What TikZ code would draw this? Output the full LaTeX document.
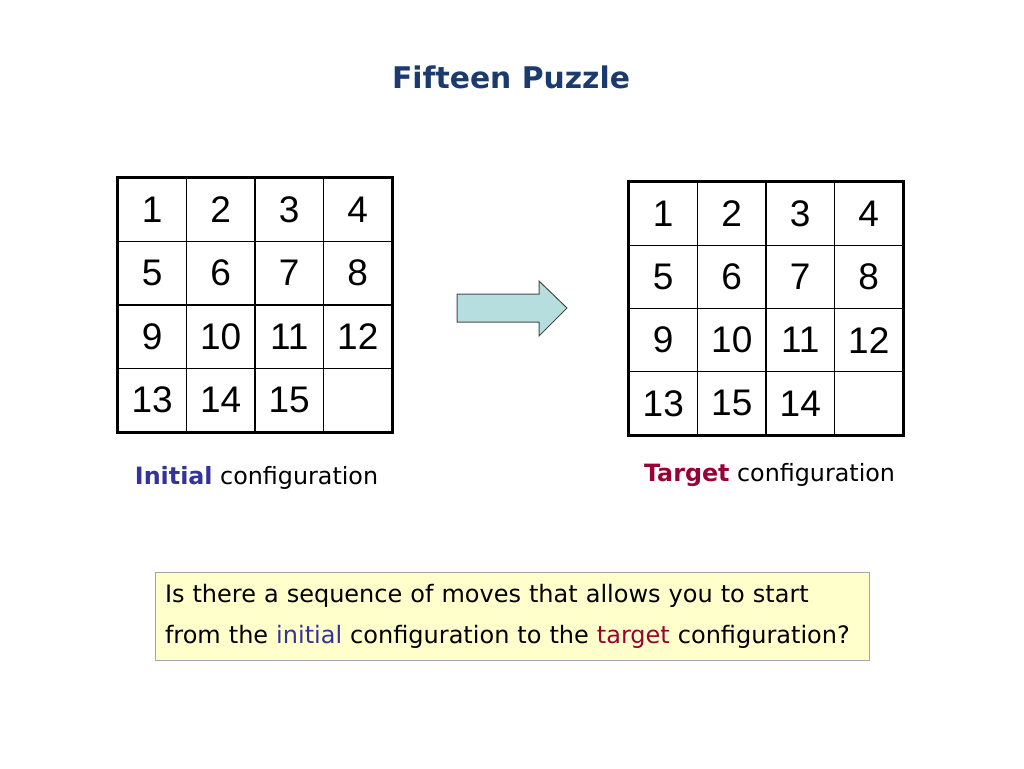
\documentclass[tikz,border=0pt]{standalone}
\usepackage{fontspec}
\setmainfont{DejaVu Sans}
\newfontfamily\numfont{Liberation Sans}
\definecolor{titleblue}{HTML}{1B3B6F}
\definecolor{iniblue}{HTML}{333399}
\definecolor{tgtred}{HTML}{990033}
\definecolor{boxfill}{HTML}{FFFFCC}
\definecolor{boxline}{HTML}{A6A6A6}
\definecolor{arrowfill}{HTML}{B7DEDE}
\definecolor{arrowline}{HTML}{4A4A4A}
\begin{document}
\begin{tikzpicture}[x=1pt,y=-1pt,
  cellL/.style={draw=black, line width=1.3pt, minimum width=68.5pt, minimum height=63.5pt, inner sep=0pt, font=\numfont\fontsize{37}{37}\selectfont},
  cellR/.style={cellL, minimum height=63.25pt},
  caption/.style={inner sep=0pt, font=\fontsize{23.8}{28}\selectfont},
  qbox/.style={draw=boxline, fill=boxfill, line width=1pt, minimum width=714pt, minimum height=88pt, text width=694pt, inner xsep=10pt, inner ysep=0pt, align=left, font=\fontsize{24}{41}\selectfont}
]
\useasboundingbox (0,0) rectangle (1024,768);
% title
\node[inner sep=0pt, text=titleblue, font=\bfseries\fontsize{29.8}{34}\selectfont] (title) at (511,77) {Fifteen Puzzle};
% left grid
\foreach \n [count=\k from 0] in {1,2,3,4,5,6,7,8,9,10,11,12,13,14,15,{}} {
  \pgfmathtruncatemacro{\c}{mod(\k,4)}
  \pgfmathtruncatemacro{\r}{div(\k,4)}
  \node[cellL] (L\k) at ({118+34.25+68.5*\c},{178+31.75+63.5*\r}) {\n};
}
\draw[line width=2.6pt] (L0.north west) rectangle (L15.south east);
% right grid
\foreach \n [count=\k from 0] in {1,2,3,4,5,6,7,8,9,10,11,12,13,15,14,{}} {
  \pgfmathtruncatemacro{\c}{mod(\k,4)}
  \pgfmathtruncatemacro{\r}{div(\k,4)}
  \node[cellR] (R\k) at ({629+34.25+68.5*\c},{182+31.625+63.25*\r}) {\n};
}
\draw[line width=2.6pt] (R0.north west) rectangle (R15.south east);
% arrow
\draw[draw=arrowline, fill=arrowfill, line width=1pt, line join=miter]
  (457,294) -- (539,294) -- (539,281) -- (567,308) -- (539,336) -- (539,322) -- (457,322) -- cycle;
% captions
\node[caption] (capL) at (256.5,478) {\textcolor{iniblue}{\bfseries Initial} configuration};
\node[caption] (capR) at (769.5,475) {\textcolor{tgtred}{\bfseries Target} configuration};
% question box
\node[qbox] (q) at (512,616) {Is there a sequence of moves that allows you to start\\
from the \textcolor{iniblue}{initial} configuration to the \textcolor{tgtred}{target} configuration?};
\end{tikzpicture}
\end{document}
